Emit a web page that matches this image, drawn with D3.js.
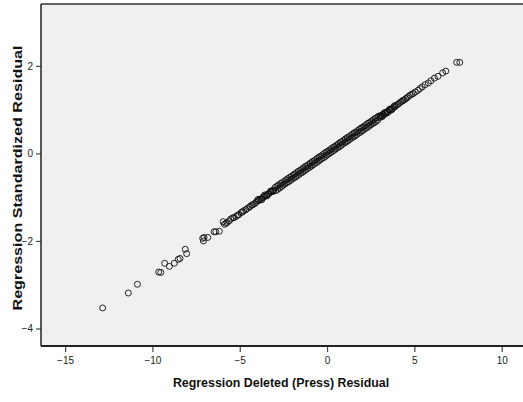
<!DOCTYPE html>
<html>
<head>
<meta charset="utf-8">
<script src="https://cdn.jsdelivr.net/npm/d3@7"></script>
<style>
  body { margin: 0; background: #fff; }
  .tick text { font-family: "Liberation Sans Narrow", "Arial Narrow", Arial, sans-serif; font-size: 10px; fill: #222; }
  .axisTitle { font-family: Arial, "Liberation Sans", sans-serif; font-weight: bold; fill: #111; }
</style>
</head>
<body>
<div id="scatter"></div>
<script>
var svgWidth = 523;
var svgHeight = 402;

var margin = { top: 4, right: 0, bottom: 56, left: 41 };
var width = svgWidth - margin.left - margin.right;
var height = svgHeight - margin.top - margin.bottom;

// Regression Deleted (Press) Residual
var pressResid = [
  -12.85, -11.38, -10.86, -9.64, -9.52, -9.30, -9.03, -8.75, -8.52, -8.42, -8.12, -8.04,
  -7.12, -7.08, -7.04, -6.83, -6.47, -6.37, -6.17, -5.95, -5.88,
  -5.80, -5.72, -5.60, -5.52, -5.40, -5.33, -5.20, -5.12, -5.05, -4.92, -4.85, -4.78,
  -4.66, -4.58, -4.45, -4.40, -4.31, -4.25, -4.15, -4.08, -4.00, -3.92, -3.85, -3.78,
  -3.70, -3.62, -3.55, -3.48, -3.40, -3.33, -3.27, -3.20, -3.12, -3.05,
  -2.98, -2.93, -2.87, -2.82, -2.78, -2.72, -2.67, -2.61, -2.57, -2.52, -2.46, -2.41,
  -2.36, -2.31, -2.26, -2.21, -2.15, -2.10, -2.06, -2.01, -1.95, -1.90, -1.86, -1.80,
  -1.75, -1.70, -1.65, -1.60, -1.55, -1.50, -1.45, -1.40, -1.35, -1.30, -1.25, -1.20,
  -1.15, -1.10, -1.05, -1.00, -0.95, -0.90, -0.85, -0.80, -0.75, -0.70, -0.65, -0.60,
  -0.55, -0.50, -0.45, -0.40, -0.35, -0.30, -0.25, -0.20, -0.15, -0.10, -0.05, 0.00,
  0.05, 0.10, 0.15, 0.20, 0.25, 0.30, 0.35, 0.40, 0.45, 0.50, 0.55, 0.60,
  0.65, 0.70, 0.75, 0.80, 0.85, 0.90, 0.95, 1.00, 1.05, 1.10, 1.15, 1.20,
  1.25, 1.30, 1.35, 1.40, 1.45, 1.50, 1.55, 1.60, 1.65, 1.70, 1.75, 1.80,
  1.85, 1.90, 1.95, 2.00, 2.05, 2.10, 2.15, 2.20, 2.25, 2.30, 2.35, 2.40,
  2.45, 2.50, 2.55, 2.60, 2.65, 2.70, 2.75, 2.80, 2.85, 2.90, 2.95,
  3.02, 3.08, 3.13, 3.19, 3.24, 3.31, 3.36, 3.42, 3.49, 3.55, 3.62, 3.68, 3.76, 3.82,
  3.90, 3.97, 4.05, 4.12, 4.20, 4.28, 4.35, 4.42, 4.50, 4.58, 4.66, 4.75, 4.85, 4.94,
  5.05, 5.20, 5.32, 5.45, 5.62, 5.80, 5.95, 6.15, 6.35, 6.62, 6.80, 7.42, 7.60,
  -3.95, -3.74, -3.58, -3.44, -3.23, -3.09, 3.05, 3.16, 3.28, 3.46, 3.59, 3.72, 3.86
];

// Regression Standardized Residual
var stdResid = [
  -3.53, -3.19, -2.99, -2.71, -2.72, -2.51, -2.58, -2.51, -2.42, -2.40, -2.19, -2.29,
  -1.94, -2.00, -1.92, -1.92, -1.79, -1.79, -1.78, -1.56, -1.62,
  -1.60, -1.58, -1.54, -1.50, -1.47, -1.47, -1.44, -1.41, -1.40, -1.35, -1.34, -1.31,
  -1.29, -1.26, -1.23, -1.21, -1.18, -1.17, -1.15, -1.12, -1.09, -1.08, -1.05, -1.04,
  -1.01, -1.00, -0.97, -0.96, -0.93, -0.92, -0.89, -0.88, -0.85, -0.84,
  -0.78, -0.85, -0.75, -0.82, -0.72, -0.79, -0.69, -0.76, -0.67, -0.73, -0.64, -0.70,
  -0.61, -0.67, -0.58, -0.65, -0.55, -0.62, -0.53, -0.59, -0.50, -0.56, -0.47, -0.54,
  -0.44, -0.51, -0.41, -0.48, -0.39, -0.45, -0.36, -0.43, -0.33, -0.40, -0.30, -0.37,
  -0.28, -0.34, -0.25, -0.32, -0.22, -0.29, -0.19, -0.26, -0.17, -0.23, -0.14, -0.21,
  -0.11, -0.18, -0.08, -0.15, -0.06, -0.12, -0.03, -0.10, 0.00, -0.07, 0.03, -0.04,
  0.05, -0.01, 0.08, 0.02, 0.11, 0.04, 0.14, 0.07, 0.16, 0.10, 0.19, 0.13,
  0.22, 0.15, 0.25, 0.18, 0.27, 0.21, 0.30, 0.24, 0.33, 0.26, 0.36, 0.29,
  0.38, 0.32, 0.41, 0.35, 0.44, 0.37, 0.47, 0.40, 0.49, 0.43, 0.52, 0.46,
  0.55, 0.48, 0.58, 0.51, 0.60, 0.54, 0.63, 0.57, 0.66, 0.59, 0.69, 0.62,
  0.71, 0.65, 0.74, 0.68, 0.77, 0.70, 0.80, 0.73, 0.82, 0.76, 0.85,
  0.82, 0.86, 0.85, 0.89, 0.88, 0.92, 0.91, 0.95, 0.95, 0.99, 0.98, 1.02, 1.03, 1.06,
  1.07, 1.10, 1.12, 1.14, 1.17, 1.19, 1.21, 1.22, 1.25, 1.27, 1.30, 1.33, 1.35, 1.37,
  1.40, 1.44, 1.48, 1.52, 1.57, 1.61, 1.66, 1.72, 1.76, 1.84, 1.88, 2.08, 2.08,
  -1.05, -1.06, -0.95, -0.97, -0.86, -0.87, 0.86, 0.84, 0.93, 0.93, 1.01, 1.00, 1.09
];

var xTicks = [-15, -10, -5, 0, 5, 10];
var yTicks = [-4, -2, 0, 2];

var data = pressResid.map((d, i) => ({ x: d, y: stdResid[i] }));

var svg = d3.select("#scatter")
  .append("svg")
  .attr("width", svgWidth)
  .attr("height", svgHeight);

var chartGroup = svg.append("g")
  .attr("transform", `translate(${margin.left}, ${margin.top})`);

var xLinearScale = d3.scaleLinear()
  .domain([-16.38, 11.22])
  .range([0, width]);

var yLinearScale = d3.scaleLinear()
  .domain([-4.40, 3.413])
  .range([height, 0]);

// plot background
chartGroup.append("rect")
  .attr("width", width)
  .attr("height", height)
  .attr("fill", "#f0f0f0");

// top border
chartGroup.append("line")
  .attr("x1", 0).attr("x2", width)
  .attr("y1", 0).attr("y2", 0)
  .attr("stroke", "#333").attr("stroke-width", 1.5);

var bottomAxis = d3.axisBottom(xLinearScale).tickValues(xTicks).tickSize(6).tickPadding(5);
var leftAxis = d3.axisLeft(yLinearScale).tickValues(yTicks).tickSize(5).tickPadding(3);

var xAxisG = chartGroup.append("g")
  .attr("transform", `translate(0, ${height})`)
  .call(bottomAxis);

var yAxisG = chartGroup.append("g")
  .call(leftAxis);

[xAxisG, yAxisG].forEach(g => {
  g.select(".domain").remove();
  g.selectAll(".tick line").attr("stroke", "#444").attr("stroke-width", 1.2);
});

// left and bottom frame
chartGroup.append("line")
  .attr("x1", 0).attr("x2", 0)
  .attr("y1", 0).attr("y2", height)
  .attr("stroke", "#222").attr("stroke-width", 1.5);
chartGroup.append("line")
  .attr("x1", 0).attr("x2", width)
  .attr("y1", height).attr("y2", height)
  .attr("stroke", "#222").attr("stroke-width", 2);

// points
chartGroup.append("g").selectAll("circle")
  .data(data)
  .enter()
  .append("circle")
  .attr("cx", d => xLinearScale(d.x))
  .attr("cy", d => yLinearScale(d.y))
  .attr("r", 3)
  .attr("fill", "none")
  .attr("stroke", "#111")
  .attr("stroke-width", 0.9);

// axis titles
svg.append("text")
  .attr("class", "axisTitle")
  .attr("x", 281)
  .attr("y", 387)
  .attr("text-anchor", "middle")
  .style("font-size", "12.4px")
  .text("Regression Deleted (Press) Residual");

svg.append("text")
  .attr("class", "axisTitle")
  .attr("transform", "translate(22, 178) rotate(-90)")
  .attr("text-anchor", "middle")
  .attr("textLength", 265)
  .attr("lengthAdjust", "spacingAndGlyphs")
  .style("font-size", "13.5px")
  .text("Regression Standardized Residual");
</script>
</body>
</html>
